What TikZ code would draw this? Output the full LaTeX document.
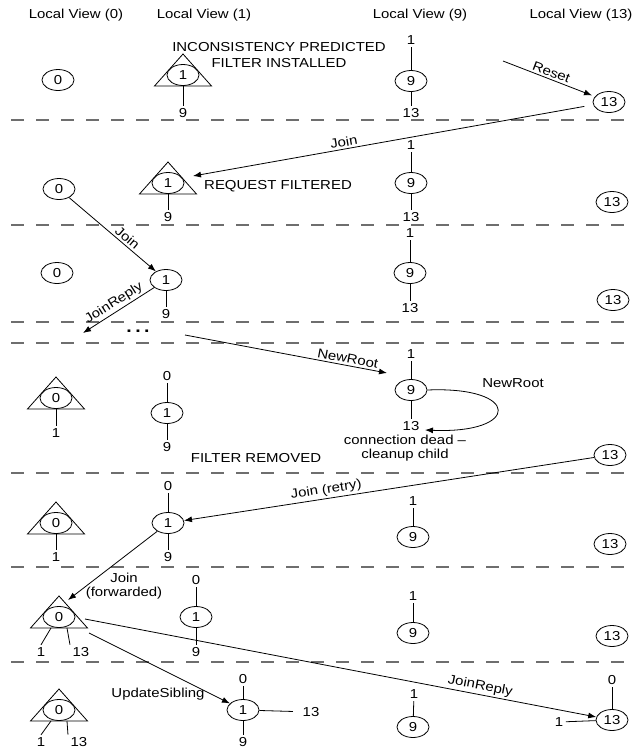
\documentclass[tikz,border=0pt]{standalone}
\usepackage{fontspec}
\setmainfont{Liberation Sans}[FakeStretch=1.15]
\usetikzlibrary{arrows.meta,shapes.geometric,calc}
\definecolor{sepgray}{RGB}{110,110,110}
\newcommand\trinode[4]{%
  \node[nd] (#1) at (#2,#3) {#4};
  \draw[ln] (#2,#3-21) -- (#2+28.5,#3+11) -- (#2-28.5,#3+11) -- cycle;
  \coordinate (#1-base) at (#2,#3+11);}
\begin{document}
\begin{tikzpicture}[x=1pt,y=-1pt,
  every node/.style={font=\fontsize{13}{13.5}\selectfont, inner sep=1pt},
  nd/.style={ellipse, draw, line width=0.8pt, minimum width=32pt, minimum height=21pt, inner sep=0pt},
  lbl/.style={inner sep=2.5pt},
  ln/.style={line width=0.8pt},
  arrlab/.style={above, sloped, inner sep=2pt},
  arr/.style={line width=0.8pt, -{Latex[length=8pt,width=6pt]}},
  sep/.style={sepgray, line width=1.2pt, dash pattern=on 13pt off 12pt}]
\useasboundingbox (0,0) rectangle (636,748);
\foreach \yy in {120,225,322,343,473,567,662} \draw[sep] (11,\yy) -- (636,\yy);
% headers
\node (h0) at (76,15) {Local View (0)};
\node (h1) at (204,15) {Local View (1)};
\node (h9) at (420,15) {Local View (9)};
\node (h13) at (581,15) {Local View (13)};
% ---------- row 1
\node[nd] (c0a) at (58,80) {0};
\trinode{t1a}{183}{75}{1}
\node[lbl] (t1a9) at (183,113) {9};
\draw[ln] (t1a-base) -- (t1a9);
\node[align=center] (inc) at (279,55) {INCONSISTENCY PREDICTED\\[2.5pt]FILTER INSTALLED};
\node[nd] (9a) at (411,81) {9};
\node[lbl] (9a1) at (411,40) {1};
\node[lbl] (9a13) at (411,113) {13};
\draw[ln] (9a1) -- (9a); \draw[ln] (9a) -- (9a13);
\node[nd] (13a) at (609,102) {13};
\coordinate (rs) at (503,61);
\draw[arr, shorten >=3pt] (rs) -- (13a) node[pos=0.5, arrlab] {Reset};
% ---------- row 2
\coordinate (j1e) at (193,176);
\draw[arr, shorten <=9pt] (13a) -- (j1e) node[pos=0.62, arrlab] {Join};
\node[nd] (c0b) at (59,189) {0};
\trinode{t1b}{168}{183}{1}
\node[lbl] (t1b9) at (168,217) {9};
\draw[ln] (t1b-base) -- (t1b9);
\node (rf) at (278,186) {REQUEST FILTERED};
\node[nd] (9b) at (411,183) {9};
\node[lbl] (9b1) at (411,145) {1};
\node[lbl] (9b13) at (411,217) {13};
\draw[ln] (9b1) -- (9b); \draw[ln] (9b) -- (9b13);
\node[nd] (13b) at (612,202) {13};
% ---------- row 3
\node[nd] (c0c) at (57,273) {0};
\node[nd] (1c) at (166,280) {1};
\draw[arr] (c0b) -- (1c) node[pos=0.62, arrlab] {Join};
\node[lbl] (1c9) at (166,314) {9};
\draw[ln] (1c) -- (1c9);
\coordinate (jr1e) at (83,333);
\draw[arr] (1c) -- (jr1e) node[pos=0.5, arrlab] {JoinReply};
\node[nd] (9c) at (410,273) {9};
\node[lbl] (9c1) at (410,233) {1};
\node[lbl] (9c13) at (410,308) {13};
\draw[ln] (9c1) -- (9c); \draw[ln] (9c) -- (9c13);
\node[nd] (13c) at (613,300) {13};
\node (dots) at (138,331) {\fontsize{17}{17}\selectfont\bfseries .\hspace{3.5pt}.\hspace{3.5pt}.};
% ---------- row 4
\trinode{t0d}{56}{398}{0}
\node[lbl] (t0d1) at (56,433) {1};
\draw[ln] (t0d-base) -- (t0d1);
\node[nd] (1d) at (167,413) {1};
\node[lbl] (1d0) at (167,376) {0};
\node[lbl] (1d9) at (167,447) {9};
\draw[ln] (1d0) -- (1d); \draw[ln] (1d) -- (1d9);
\node[nd] (9d) at (411,390) {9};
\node[lbl] (9d1) at (411,354) {1};
\node[lbl] (9d13) at (411,426) {13};
\draw[ln] (9d1) -- (9d); \draw[ln] (9d) -- (9d13);
\coordinate (nrs) at (185,335);
\draw[arr] (nrs) -- ($(9d)+(-24,-17)$) node[pos=0.8, arrlab] {NewRoot};
\coordinate (lpe) at (425,430);
\draw[arr] (9d.east) .. controls (521,386) and (521,434) .. (lpe);
\node (nr2) at (513,383) {NewRoot};
\node[align=center] (cd) at (405,448) {connection dead --\\cleanup child};
\node (fr) at (256,458) {FILTER REMOVED};
\node[nd] (13d) at (610,455) {13};
% ---------- row 5
\trinode{t0e}{56}{523}{0}
\node[lbl] (t0e1) at (56,557) {1};
\draw[ln] (t0e-base) -- (t0e1);
\node[nd] (1e) at (168,523) {1};
\node[lbl] (1e0) at (168,486) {0};
\node[lbl] (1e9) at (168,557) {9};
\draw[ln] (1e0) -- (1e); \draw[ln] (1e) -- (1e9);
\draw[arr] (13d) -- (1e) node[pos=0.65, arrlab] {Join (retry)};
\node[nd] (9e) at (413,537) {9};
\node[lbl] (9e1) at (413,501) {1};
\draw[ln] (9e1) -- (9e);
\node[nd] (13e) at (610,544) {13};
\coordinate (jfe) at (68,600);
\draw[arr] (1e) -- (jfe);
\node[align=center] (jf) at (124,586) {Join\\(forwarded)};
% ---------- row 6
\trinode{t0f}{59}{617}{0}
\node[lbl] (t0f1) at (41,652) {1};
\node[lbl] (t0f13) at (81,652) {13};
\draw[ln] ($(t0f-base)+(-8,0)$) -- (t0f1.north);
\draw[ln] ($(t0f-base)+(8,0)$) -- (t0f13.north west);
\node[nd] (1f) at (196,617) {1};
\node[lbl] (1f0) at (196,580) {0};
\node[lbl] (1f9) at (196,652) {9};
\draw[ln] (1f0) -- (1f); \draw[ln] (1f) -- (1f9);
\node[nd] (9f) at (413,633) {9};
\node[lbl] (9f1) at (413,596) {1};
\draw[ln] (9f1) -- (9f);
\node[nd] (13f) at (612,636) {13};
% ---------- row 7
\trinode{t0g}{59}{710}{0}
\node[lbl] (t0g1) at (41,742) {1};
\node[lbl] (t0g13) at (79,742) {13};
\draw[ln] ($(t0g-base)+(-8,0)$) -- (t0g1.north);
\draw[ln] ($(t0g-base)+(8,0)$) -- (t0g13.north west);
\node[nd] (1g) at (243,710) {1};
\node[lbl] (1g0) at (243,679) {0};
\node[lbl] (1g9) at (243,742) {9};
\node[lbl] (1g13) at (311,712) {13};
\draw[ln] (1g0) -- (1g); \draw[ln] (1g) -- (1g9);
\draw[ln, shorten >=7pt] (1g) -- (1g13);
\node[nd] (9g) at (413,727) {9};
\node[lbl] (9g1) at (414,694) {1};
\draw[ln] (9g1) -- (9g);
\node[nd] (13g) at (612,720) {13};
\node[lbl] (13g0) at (612,680) {0};
\node[lbl] (13g1) at (559,722) {1};
\draw[ln] (13g0) -- (13g); \draw[ln] (13g) -- (13g1);
% arrows row 6 -> 7
\coordinate (jr2s) at (85,619);
\draw[arr] (jr2s) -- (13g) node[pos=0.77, arrlab] {JoinReply};
\coordinate (uss) at (89,633);
\draw[arr] (uss) -- (1g);
\node (us) at (158,694) {UpdateSibling};
\end{tikzpicture}
\end{document}
